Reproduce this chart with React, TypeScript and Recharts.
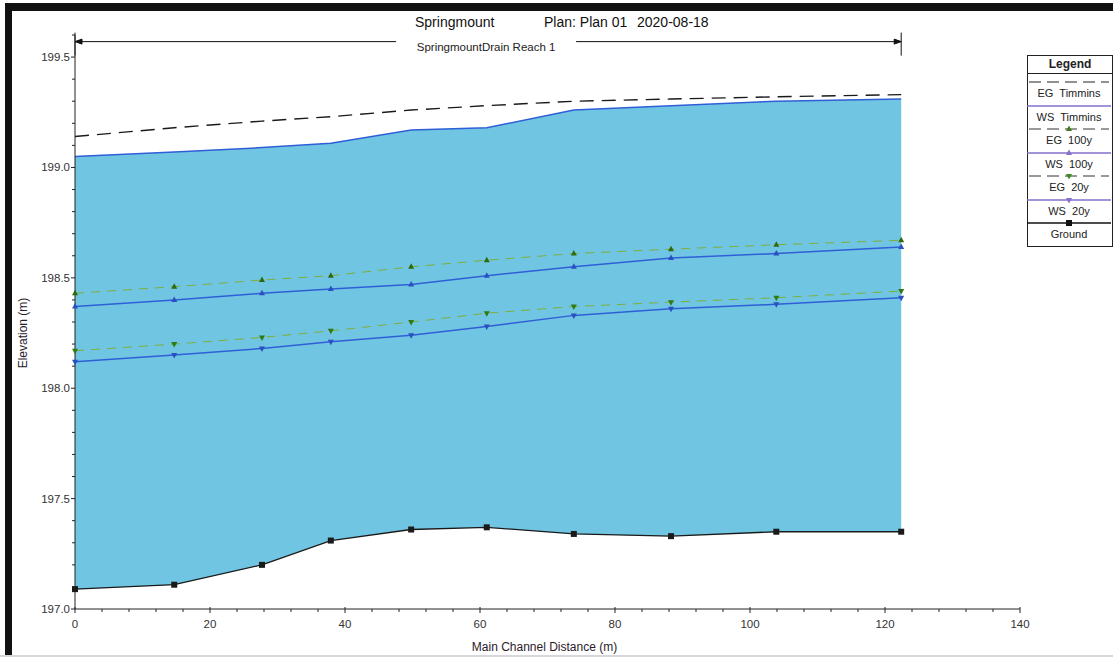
import React from 'react';
import { ComposedChart, Area, Line, XAxis, YAxis, ReferenceLine } from 'recharts';

// stations along the reach (m) and profile elevations (m)
const distance = [0, 14.7, 27.7, 37.9, 49.8, 61.0, 73.9, 88.3, 103.9, 122.4];
const ground = [197.09, 197.11, 197.2, 197.31, 197.36, 197.37, 197.34, 197.33, 197.35, 197.35];
const wsTimmins = [199.05, 199.07, 199.09, 199.11, 199.17, 199.18, 199.26, 199.28, 199.3, 199.31];
const egTimmins = [199.14, 199.18, 199.21, 199.23, 199.26, 199.28, 199.3, 199.31, 199.32, 199.33];
const eg100 = [198.43, 198.46, 198.49, 198.51, 198.55, 198.58, 198.61, 198.63, 198.65, 198.67];
const ws100 = [198.37, 198.4, 198.43, 198.45, 198.47, 198.51, 198.55, 198.59, 198.61, 198.64];
const eg20 = [198.17, 198.2, 198.23, 198.26, 198.3, 198.34, 198.37, 198.39, 198.41, 198.44];
const ws20 = [198.12, 198.15, 198.18, 198.21, 198.24, 198.28, 198.33, 198.36, 198.38, 198.41];

const xTicks = [0, 4, 8, 12, 16, 20, 24, 28, 32, 36, 40, 44, 48, 52, 56, 60, 64, 68, 72, 76, 80, 84, 88, 92, 96, 100, 104, 108, 112, 116, 120, 124, 128, 132, 136, 140];
const xMajor = [0, 20, 40, 60, 80, 100, 120, 140];
const yTicks = [197.0, 197.1, 197.2, 197.3, 197.4, 197.5, 197.6, 197.7, 197.8, 197.9, 198.0, 198.1, 198.2, 198.3, 198.4, 198.5, 198.6, 198.7, 198.8, 198.9, 199.0, 199.1, 199.2, 199.3, 199.4, 199.5, 199.6];
const yMajor = [197.0, 197.5, 198.0, 198.5, 199.0, 199.5];

const titleParts = ['Springmount', 'Plan: Plan 01', '2020-08-18'];
const reachName = 'SpringmountDrain Reach 1';
const reachElev = 199.57;

const legendItems = [
  { name: 'EG  Timmins', kind: 'egT' },
  { name: 'WS  Timmins', kind: 'wsT' },
  { name: 'EG  100y', kind: 'eg100' },
  { name: 'WS  100y', kind: 'ws100' },
  { name: 'EG  20y', kind: 'eg20' },
  { name: 'WS  20y', kind: 'ws20' },
  { name: 'Ground', kind: 'ground' },
];

const data = distance.map((d, i) => ({
  dist: d,
  band: [ground[i], wsTimmins[i]],
  ground: ground[i],
  wsT: wsTimmins[i],
  egT: egTimmins[i],
  eg100: eg100[i],
  ws100: ws100[i],
  eg20: eg20[i],
  ws20: ws20[i],
}));

const FONT = '"Liberation Sans", Arial, sans-serif';
const TICK_SIZE = 4;
const TICK_MARGIN = 4;
const WS_BLUE = '#2f5fd6';
const EG_GREEN = '#7fae3a';
const LEG_PURPLE = '#8570cc';

const isMajor = (list: number[], v: number) => list.some((m) => Math.abs(m - v) < 1e-6);

const XTick = (props: any) => {
  const { x, y, payload } = props;
  const axisY = y - TICK_SIZE - TICK_MARGIN;
  const major = isMajor(xMajor, payload.value);
  return (
    <g>
      <line x1={x} x2={x} y1={axisY - (major ? 2 : 0)} y2={axisY + (major ? 4 : 3)} stroke="#222" />
      {major && (
        <text x={x} y={y + 3} dy="0.71em" textAnchor="middle" fontSize={11.5} fill="#333" fontFamily={FONT}>
          {payload.value}
        </text>
      )}
    </g>
  );
};

const YTick = (props: any) => {
  const { x, y, payload } = props;
  const axisX = x + TICK_SIZE + TICK_MARGIN;
  const major = isMajor(yMajor, payload.value);
  return (
    <g>
      <line x1={axisX - (major ? 4 : 3)} x2={axisX} y1={y} y2={y} stroke="#222" />
      {major && (
        <text x={axisX - 5} y={y} dy="0.35em" textAnchor="end" fontSize={11.5} fill="#333" fontFamily={FONT}>
          {payload.value.toFixed(1)}
        </text>
      )}
    </g>
  );
};

const triUp = (fill: string) => (p: any) => (
  <polygon key={p.index} points={`${p.cx},${p.cy - 3.5} ${p.cx - 3},${p.cy + 2} ${p.cx + 3},${p.cy + 2}`} fill={fill} />
);
const triDown = (fill: string) => (p: any) => (
  <polygon key={p.index} points={`${p.cx},${p.cy + 3.5} ${p.cx - 3},${p.cy - 2} ${p.cx + 3},${p.cy - 2}`} fill={fill} />
);
const square = (fill: string) => (p: any) => (
  <rect key={p.index} x={p.cx - 3} y={p.cy - 3} width={6} height={6} fill={fill} />
);

// reach extent marker drawn from the reference line's scaled end points
const ReachMarker = (p: any) => {
  const { x1, y1, x2 } = p;
  const mid = (x1 + x2) / 2;
  return (
    <g stroke="#111" strokeWidth={1}>
      <line x1={x1} x2={mid - 92} y1={y1} y2={y1} />
      <line x1={mid + 88} x2={x2} y1={y1} y2={y1} />
      <polygon points={`${x1},${y1} ${x1 + 7},${y1 - 2.5} ${x1 + 7},${y1 + 2.5}`} fill="#111" />
      <polygon points={`${x2},${y1} ${x2 - 7},${y1 - 2.5} ${x2 - 7},${y1 + 2.5}`} fill="#111" />
      <line x1={x1} x2={x1} y1={y1 - 9} y2={y1 + 14} />
      <line x1={x2} x2={x2} y1={y1 - 9} y2={y1 + 14} />
      <text x={mid - 2} y={y1 + 5} dy="0.35em" textAnchor="middle" fontSize={11.5} fill="#222" stroke="none" fontFamily={FONT}>
        {reachName}
      </text>
    </g>
  );
};

const LegendSample = ({ kind }: { kind: string }) => {
  const w = 84;
  const c = 42;
  const y = 5;
  let line: React.ReactNode = null;
  let mark: React.ReactNode = null;
  if (kind === 'egT') line = <line x1={2} x2={w - 2} y1={y} y2={y} stroke="#222" strokeDasharray="12 6" />;
  if (kind === 'wsT') line = <line x1={0} x2={w} y1={y} y2={y} stroke={LEG_PURPLE} strokeWidth={1.5} />;
  if (kind === 'eg100' || kind === 'eg20') line = <line x1={2} x2={w - 2} y1={y} y2={y} stroke="#333" strokeDasharray="12 6" />;
  if (kind === 'ws100' || kind === 'ws20') line = <line x1={0} x2={w} y1={y} y2={y} stroke={LEG_PURPLE} strokeWidth={1.5} />;
  if (kind === 'ground') line = <line x1={0} x2={w} y1={y} y2={y} stroke="#111" strokeWidth={1.5} />;
  if (kind === 'eg100') mark = triUp('#3d7d1e')({ cx: c, cy: y, index: 0 });
  if (kind === 'ws100') mark = triUp(LEG_PURPLE)({ cx: c, cy: y, index: 0 });
  if (kind === 'eg20') mark = triDown('#3d8d1e')({ cx: c, cy: y, index: 0 });
  if (kind === 'ws20') mark = triDown(LEG_PURPLE)({ cx: c, cy: y, index: 0 });
  if (kind === 'ground') mark = square('#111')({ cx: c, cy: y, index: 0 });
  return (
    <svg width={w} height={10} style={{ display: 'block' }}>
      {line}
      {mark}
    </svg>
  );
};

const ProfileLegend = () => (
  <div
    style={{
      position: 'absolute',
      left: 1027,
      top: 55,
      width: 86,
      height: 192,
      border: '1px solid #222',
      background: '#fff',
      fontFamily: FONT,
      color: '#222',
      boxSizing: 'border-box',
    }}
  >
    <div style={{ height: 17, borderBottom: '1px solid #222', textAlign: 'center', fontWeight: 'bold', fontSize: 12, lineHeight: '17px' }}>
      Legend
    </div>
    {legendItems.map((it, i) => (
      <div key={it.kind} style={{ position: 'absolute', left: -1, top: 21 + i * 23.5, width: 84 }}>
        <LegendSample kind={it.kind} />
        <div style={{ textAlign: 'center', fontSize: 11, lineHeight: '13px', whiteSpace: 'pre' }}>{it.name}</div>
      </div>
    ))}
  </div>
);

export default function App() {
  return (
    <div style={{ position: 'fixed', left: 0, top: 0, width: 1113, height: 657, background: '#fff', overflow: 'hidden', fontFamily: FONT }}>
      <div style={{ position: 'absolute', left: 5, top: 3, right: 0, bottom: 2, borderTop: '8px solid #111', borderLeft: '7px solid #111' }} />
      <div style={{ position: 'absolute', left: 0, right: 0, top: 655, height: 2, background: '#d6d6dc' }} />
      <div style={{ position: 'absolute', left: 415, top: 14, fontSize: 14, color: '#111', whiteSpace: 'pre' }}>{titleParts[0]}</div>
      <div style={{ position: 'absolute', left: 544, top: 14, fontSize: 14, color: '#111', whiteSpace: 'pre' }}>{titleParts[1]}</div>
      <div style={{ position: 'absolute', left: 637, top: 14, fontSize: 14, color: '#111', whiteSpace: 'pre' }}>{titleParts[2]}</div>
      <div style={{ position: 'absolute', left: 0, top: 0 }}>
        <ComposedChart width={1113} height={657} data={data} margin={{ top: 35, right: 93, bottom: 18, left: 15 }}>
          <XAxis
            dataKey="dist"
            type="number"
            domain={[0, 140]}
            ticks={xTicks}
            interval={0}
            tickLine={false}
            tickSize={TICK_SIZE}
            tickMargin={TICK_MARGIN}
            tick={<XTick />}
            height={30}
            stroke="#222"
            label={{
              content: (lp: any) => {
                const vb = lp.viewBox;
                return (
                  <text x={vb.x + vb.width / 2 - 3} y={vb.y + 38} dy="0.35em" textAnchor="middle" fontSize={12} fill="#2a1a2a" fontFamily={FONT}>
                    Main Channel Distance (m)
                  </text>
                );
              },
            }}
          />
          <YAxis
            type="number"
            domain={[197, 199.6]}
            ticks={yTicks}
            interval={0}
            tickLine={false}
            tickSize={TICK_SIZE}
            tickMargin={TICK_MARGIN}
            tick={<YTick />}
            width={60}
            stroke="#222"
            label={{
              content: (lp: any) => {
                const vb = lp.viewBox;
                const cx = vb.x + 8;
                const cy = vb.y + vb.height / 2 + 11;
                return (
                  <text x={cx} y={cy} dy="0.35em" textAnchor="middle" fontSize={12} fill="#2a1a2a" fontFamily={FONT} transform={`rotate(-90, ${cx}, ${cy})`}>
                    Elevation (m)
                  </text>
                );
              },
            }}
          />
          <Area dataKey="band" type="linear" fill="#70c5e3" fillOpacity={1} stroke="none" isAnimationActive={false} />
          <Line dataKey="egT" type="linear" stroke="#1a1a1a" strokeWidth={1.4} strokeDasharray="14 8" dot={false} isAnimationActive={false} />
          <Line dataKey="wsT" type="linear" stroke={WS_BLUE} strokeWidth={1.5} dot={false} isAnimationActive={false} />
          <Line dataKey="eg100" type="linear" stroke={EG_GREEN} strokeWidth={1} strokeDasharray="9 7" dot={triUp('#2f6a12')} isAnimationActive={false} />
          <Line dataKey="ws100" type="linear" stroke={WS_BLUE} strokeWidth={1.5} dot={triUp('#2b4fc0')} isAnimationActive={false} />
          <Line dataKey="eg20" type="linear" stroke={EG_GREEN} strokeWidth={1} strokeDasharray="9 7" dot={triDown('#2f7a12')} isAnimationActive={false} />
          <Line dataKey="ws20" type="linear" stroke={WS_BLUE} strokeWidth={1.5} dot={triDown('#2b4fc0')} isAnimationActive={false} />
          <Line dataKey="ground" type="linear" stroke="#1a1a1a" strokeWidth={1.3} dot={square('#1a1a1a')} isAnimationActive={false} />
          <ReferenceLine
            segment={[
              { x: distance[0], y: reachElev },
              { x: distance[distance.length - 1], y: reachElev },
            ]}
            ifOverflow="visible"
            shape={ReachMarker}
          />
        </ComposedChart>
      </div>
      <ProfileLegend />
    </div>
  );
}
